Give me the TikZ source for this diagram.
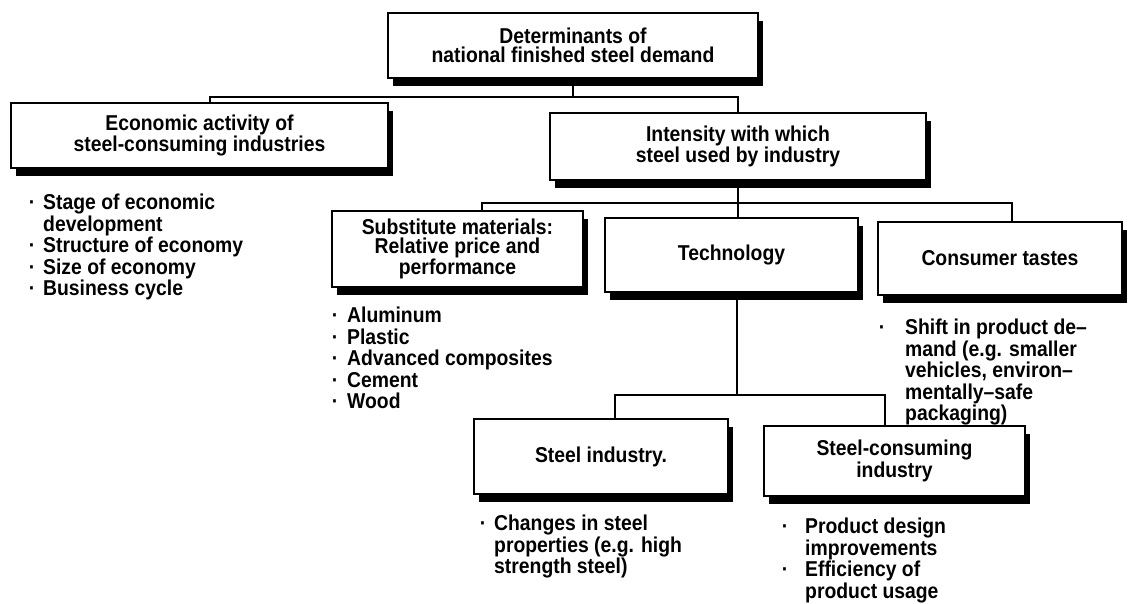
\documentclass[tikz,border=0pt]{standalone}
\usepackage{fontspec}
\setmainfont[FakeStretch=0.9]{Liberation Sans}
\usetikzlibrary{shadows,backgrounds}
\newcommand\dgboxfont{\fontsize{21.5}{19.5}\selectfont\bfseries}
\newcommand\dglistfont{\fontsize{21.5}{21.5}\selectfont\bfseries}
\newcommand\dgdot[1]{\llap{\textperiodcentered\hspace{#1}}}
\begin{document}
\begin{tikzpicture}[x=1pt,y=-1pt,
  box/.style={draw=black, fill=white, line width=2.4pt, align=center,
    inner sep=0pt, font=\dgboxfont,
    drop shadow={shadow xshift=5pt, shadow yshift=-8pt, fill=black, opacity=1}},
  list/.style={anchor=north west, align=left, inner sep=0pt, font=\dglistfont},
  conn/.style={line width=1.6pt}]
\useasboundingbox (0,0) rectangle (1133,604);

% boxes
\node[box, minimum width=370pt, minimum height=65pt] (root) at (573,45.5)
  {Determinants of\\national finished steel demand};
\node[box, minimum width=377pt, minimum height=65pt] (econ) at (199.5,135.5)
  {Economic activity of\\steel-consuming industries};
\node[box, minimum width=376pt, minimum height=67pt] (intens) at (738,146.5)
  {Intensity with which\\steel used by industry};
\node[box, minimum width=251pt, minimum height=76pt] (sub) at (457.5,249)
  {Substitute materials:\\Relative price and\\performance};
\node[box, minimum width=253pt, minimum height=74pt] (tech) at (731.5,255)
  {Technology};
\node[box, minimum width=244pt, minimum height=73pt] (cons) at (1000,258.5)
  {Consumer tastes};
\node[box, minimum width=254pt, minimum height=75pt] (sind) at (601,456.5)
  {Steel industry.};
\node[box, minimum width=261pt, minimum height=70pt] (scons) at (894.5,461)
  {Steel-consuming\\industry};

% bullet lists
\node[list] (econlist) at (43,194)
  {\dgdot{8pt}Stage of economic\\development\\\dgdot{8pt}Structure of economy\\\dgdot{8pt}Size of economy\\\dgdot{8pt}Business cycle};
\node[list] (sublist) at (347,307)
  {\dgdot{9pt}Aluminum\\\dgdot{9pt}Plastic\\\dgdot{9pt}Advanced composites\\\dgdot{9pt}Cement\\\dgdot{9pt}Wood};
\node[list] (conslist) at (905,319)
  {\dgdot{20pt}Shift in product de–\\mand (e.g. smaller\\vehicles, environ–\\mentally–safe\\packaging)};
\node[list] (sindlist) at (494,515)
  {\dgdot{8pt}Changes in steel\\properties (e.g. high\\strength steel)};
\node[list] (sconslist) at (805,518)
  {\dgdot{17pt}Product design\\improvements\\\dgdot{17pt}Efficiency of\\product usage};

% connectors
\coordinate (bus1) at (0,97);
\coordinate (bus2) at (0,203);
\coordinate (bus3) at (0,395);
\begin{scope}[on background layer]
  \draw[conn] (root.south) -- (root.south |- bus1);
  \draw[conn] ([xshift=10.5pt]econ.north) |- (intens.north |- bus1) -- (intens.north);
  \draw[conn] (intens.south) -- (intens.south |- tech.north);
  \draw[conn] ([xshift=24.5pt]sub.north) |- ([xshift=12pt]cons.north |- bus2) -- ([xshift=12pt]cons.north);
  \draw[conn] ([xshift=5.5pt]tech.south) -- ([xshift=5.5pt]tech.south |- bus3);
  \draw[conn] ([xshift=14pt]sind.north) |- ([xshift=-9.5pt]scons.north |- bus3) -- ([xshift=-9.5pt]scons.north);
\end{scope}
\end{tikzpicture}
\end{document}
